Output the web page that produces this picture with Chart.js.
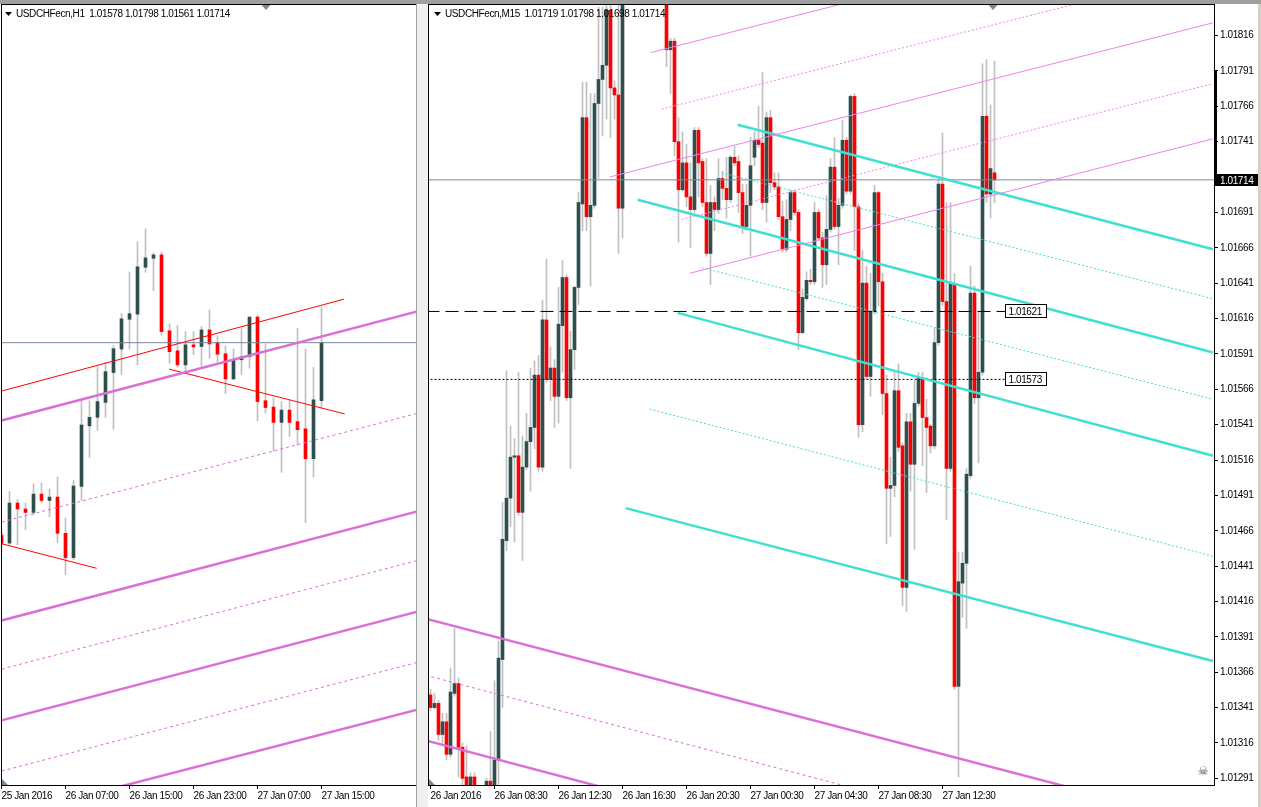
<!DOCTYPE html>
<html>
<head>
<meta charset="utf-8">
<script src="https://cdn.jsdelivr.net/npm/chart.js@4.4.0/dist/chart.umd.min.js"></script>
<style>
  html, body { margin: 0; padding: 0; background: #fff; overflow: hidden; }
  body { width: 1261px; height: 807px; position: relative; }
  #topbar { position: absolute; left: 0; top: 0; width: 1261px; height: 4px; background: #a0a0a0; }
  #gap { position: absolute; left: 416px; top: 0; width: 12px; height: 807px; background: #f0f0f0; border-left: 1px solid #a0a0a0; box-sizing: border-box; }
  #edge { position: absolute; left: 1258px; top: 0; width: 3px; height: 807px; background: #d4d0c8; }
  .pane { position: absolute; top: 0; height: 807px; }
  #h1Wrap { left: 0; width: 416px; }
  #m15Wrap { left: 428px; width: 833px; }
</style>
</head>
<body>
<div id="h1Wrap" class="pane"><canvas id="h1Chart"></canvas></div>
<div id="gap"></div>
<div id="m15Wrap" class="pane"><canvas id="m15Chart"></canvas></div>
<div id="edge"></div>
<div id="topbar"></div>
<script>
// Data: USDCHFecn M15 candles (index 0 = 26 Jan 04:30)
const m15Open = [1.01350,1.01341,1.01344,1.01322,1.01331,1.01308,1.01351,1.01358,1.01313,1.01292,
  1.01284,1.01292,1.01270,1.01262,1.01280,1.01289,1.01282,1.01304,1.01375,1.01459,
  1.01489,1.01518,1.01519,1.01479,1.01511,1.01529,1.01539,1.01576,1.01511,1.01615,
  1.01573,1.01581,1.01561,1.01611,1.01645,1.01560,1.01594,1.01638,1.01697,1.01758,
  1.01688,1.01696,1.01768,1.01785,1.01795,1.01834,1.01779,1.01774,1.01694,1.01870,
  1.01895,1.01920,1.01900,1.01915,1.01890,1.01875,1.01890,1.01868,1.01858,1.01852,
  1.01806,1.01812,1.01741,1.01707,1.01726,1.01702,1.01693,1.01749,1.01727,1.01698,
  1.01662,1.01698,1.01693,1.01715,1.01708,1.01700,1.01730,1.01727,1.01705,1.01681,
  1.01696,1.01730,1.01742,1.01740,1.01698,1.01758,1.01712,1.01709,1.01688,1.01665,
  1.01686,1.01705,1.01691,1.01606,1.01630,1.01643,1.01642,1.01691,1.01673,1.01654,
  1.01679,1.01723,1.01681,1.01696,1.01742,1.01706,1.01773,1.01695,1.01541,1.01641,
  1.01575,1.01621,1.01705,1.01642,1.01563,1.01496,1.01498,1.01565,1.01526,1.01426,
  1.01543,1.01513,1.01556,1.01574,1.01546,1.01540,1.01526,1.01599,1.01711,1.01628,
  1.01510,1.01640,1.01356,1.01429,1.01443,1.01505,1.01634,1.01560,1.01578,1.01759,
  1.01704,1.01719];
const m15High = [1.01354,1.01351,1.01346,1.01337,1.01337,1.01369,1.01397,1.01362,1.01316,1.01314,
  1.01295,1.01295,1.01282,1.01280,1.01291,1.01324,1.01360,1.01388,1.01486,1.01579,
  1.01540,1.01531,1.01578,1.01533,1.01549,1.01581,1.01586,1.01590,1.01629,1.01658,
  1.01596,1.01587,1.01638,1.01657,1.01647,1.01607,1.01639,1.01705,1.01783,1.01783,
  1.01775,1.01775,1.01836,1.01836,1.01840,1.01839,1.01784,1.01845,1.01885,1.01905,
  1.01930,1.01935,1.01925,1.01930,1.01905,1.01900,1.01900,1.01880,1.01870,1.01860,
  1.01814,1.01814,1.01758,1.01748,1.01739,1.01726,1.01751,1.01751,1.01729,1.01729,
  1.01710,1.01702,1.01729,1.01720,1.01730,1.01731,1.01738,1.01731,1.01711,1.01711,
  1.01744,1.01748,1.01766,1.01790,1.01762,1.01763,1.01719,1.01719,1.01699,1.01700,
  1.01707,1.01707,1.01693,1.01637,1.01649,1.01651,1.01698,1.01693,1.01677,1.01703,
  1.01729,1.01744,1.01701,1.01756,1.01744,1.01774,1.01775,1.01697,1.01664,1.01653,
  1.01648,1.01710,1.01706,1.01648,1.01576,1.01518,1.01578,1.01584,1.01528,1.01549,
  1.01549,1.01572,1.01578,1.01578,1.01559,1.01541,1.01609,1.01714,1.01747,1.01698,
  1.01698,1.01648,1.01451,1.01451,1.01510,1.01653,1.01639,1.01621,1.01796,1.01799,
  1.01767,1.01798];
const m15Low = [1.01339,1.01340,1.01318,1.01316,1.01304,1.01306,1.01349,1.01292,1.01276,1.01280,
  1.01282,1.01280,1.01255,1.01258,1.01275,1.01275,1.01278,1.01285,1.01341,1.01452,
  1.01469,1.01458,1.01477,1.01445,1.01509,1.01494,1.01524,1.01508,1.01508,1.01571,
  1.01558,1.01539,1.01542,1.01578,1.01558,1.01510,1.01580,1.01626,1.01678,1.01678,
  1.01639,1.01694,1.01715,1.01745,1.01757,1.01744,1.01757,1.01662,1.01673,1.01850,
  1.01880,1.01890,1.01885,1.01880,1.01865,1.01860,1.01860,1.01850,1.01842,1.01794,
  1.01775,1.01731,1.01670,1.01706,1.01695,1.01666,1.01691,1.01702,1.01695,1.01660,
  1.01640,1.01678,1.01690,1.01700,1.01687,1.01698,1.01724,1.01691,1.01676,1.01679,
  1.01660,1.01724,1.01737,1.01693,1.01684,1.01705,1.01707,1.01686,1.01663,1.01663,
  1.01678,1.01689,1.01594,1.01605,1.01629,1.01640,1.01640,1.01671,1.01638,1.01640,
  1.01677,1.01679,1.01654,1.01694,1.01704,1.01704,1.01664,1.01532,1.01536,1.01573,
  1.01561,1.01619,1.01625,1.01548,1.01457,1.01462,1.01490,1.01522,1.01413,1.01409,
  1.01494,1.01453,1.01554,1.01512,1.01493,1.01521,1.01524,1.01597,1.01625,1.01474,
  1.01508,1.01354,1.01292,1.01405,1.01397,1.01503,1.01556,1.01514,1.01576,1.01698,
  1.01687,1.01698];
const m15Close = [1.01341,1.01344,1.01322,1.01331,1.01308,1.01352,1.01358,1.01313,1.01291,1.01283,
  1.01292,1.01284,1.01262,1.01275,1.01289,1.01280,1.01304,1.01376,1.01460,1.01489,
  1.01518,1.01519,1.01479,1.01511,1.01529,1.01539,1.01576,1.01511,1.01615,1.01573,
  1.01581,1.01561,1.01612,1.01645,1.01560,1.01594,1.01638,1.01698,1.01758,1.01688,
  1.01696,1.01768,1.01785,1.01795,1.01834,1.01779,1.01774,1.01694,1.01870,1.01895,
  1.01920,1.01900,1.01915,1.01890,1.01875,1.01890,1.01868,1.01858,1.01852,1.01806,
  1.01812,1.01741,1.01707,1.01726,1.01702,1.01693,1.01749,1.01726,1.01698,1.01662,
  1.01698,1.01693,1.01715,1.01708,1.01700,1.01730,1.01726,1.01705,1.01681,1.01696,
  1.01724,1.01742,1.01739,1.01698,1.01758,1.01712,1.01709,1.01688,1.01665,1.01686,
  1.01705,1.01691,1.01606,1.01631,1.01643,1.01642,1.01691,1.01673,1.01654,1.01679,
  1.01723,1.01681,1.01696,1.01742,1.01706,1.01773,1.01695,1.01541,1.01641,1.01575,
  1.01621,1.01705,1.01642,1.01563,1.01496,1.01498,1.01565,1.01525,1.01426,1.01543,
  1.01513,1.01556,1.01574,1.01546,1.01539,1.01526,1.01599,1.01711,1.01628,1.01510,
  1.01641,1.01356,1.01430,1.01443,1.01506,1.01634,1.01560,1.01578,1.01759,1.01704,
  1.01722,1.01714];

// Data: USDCHFecn H1 candles (index 0 = 25 Jan 23:00)
const h1Open = [1.01263,1.01244,1.01338,1.01324,1.01316,1.01359,1.01344,1.01352,1.01267,1.01210,
  1.01377,1.01519,1.01539,1.01574,1.01644,1.01699,1.01769,1.01781,1.01891,1.01912,
  1.01920,1.01742,1.01695,1.01662,1.01709,1.01705,1.01744,1.01714,1.01688,1.01629,
  1.01674,1.01681,1.01774,1.01578,1.01563,1.01527,1.01556,1.01529,1.01512,1.01442,1.01578];
const h1High = [1.01280,1.01365,1.01346,1.01338,1.01383,1.01385,1.01371,1.01399,1.01303,1.01391,
  1.01578,1.01578,1.01658,1.01668,1.01707,1.01783,1.01880,1.01951,1.01981,1.01925,
  1.01927,1.01758,1.01754,1.01740,1.01740,1.01752,1.01791,1.01730,1.01707,1.01699,
  1.01747,1.01775,1.01779,1.01711,1.01584,1.01576,1.01578,1.01748,1.01699,1.01656,1.01798];
const h1Low = [1.01224,1.01240,1.01240,1.01275,1.01310,1.01339,1.01306,1.01245,1.01170,1.01205,
  1.01344,1.01445,1.01508,1.01539,1.01511,1.01639,1.01699,1.01662,1.01879,1.01836,
  1.01732,1.01666,1.01657,1.01643,1.01686,1.01658,1.01677,1.01668,1.01594,1.01627,
  1.01639,1.01654,1.01531,1.01549,1.01460,1.01410,1.01494,1.01474,1.01292,1.01399,1.01561];
const h1Close = [1.01244,1.01338,1.01324,1.01316,1.01359,1.01344,1.01352,1.01267,1.01210,1.01378,
  1.01521,1.01539,1.01576,1.01646,1.01700,1.01770,1.01782,1.01892,1.01913,1.01920,
  1.01740,1.01693,1.01662,1.01709,1.01704,1.01744,1.01711,1.01687,1.01629,1.01674,
  1.01681,1.01774,1.01576,1.01562,1.01527,1.01556,1.01527,1.01510,1.01442,1.01580,1.01714];

// Axis labels
const m15TickIdx = [0, 16, 32, 48, 64, 80, 96, 112, 128];
const m15TickLabels = ['26 Jan 2016', '26 Jan 08:30', '26 Jan 12:30', '26 Jan 16:30', '26 Jan 20:30',
  '27 Jan 00:30', '27 Jan 04:30', '27 Jan 08:30', '27 Jan 12:30'];
const h1TickIdx = [0, 8, 16, 24, 32, 40];
const h1TickLabels = ['25 Jan 2016', '26 Jan 07:00', '26 Jan 15:00', '26 Jan 23:00', '27 Jan 07:00', '27 Jan 15:00'];
const m15PriceTicks = [1.01291, 1.01316, 1.01341, 1.01366, 1.01391, 1.01416, 1.01441, 1.01466, 1.01491,
  1.01516, 1.01541, 1.01566, 1.01591, 1.01616, 1.01641, 1.01666, 1.01691, 1.01741, 1.01766, 1.01791, 1.01816];

const lastPrice = 1.01714;
const axisBarRange = [1.01791, 1.01714];
// price levels with label box: [price, index where the line stops]
const m15Levels = [[1.01621, 143.6], [1.01573, 143.6]];

// Trend lines: [x1, price1, x2, price2]
const m15VioletSolid = [[55.1, 1.01804, 195.6, 1.01905], [44.8, 1.01716, 195.6, 1.01825], [64.8, 1.01648, 195.6, 1.01743]];
const m15VioletDash = [[57.8, 1.01764, 195.6, 1.01863], [62.8, 1.01686, 195.6, 1.01782]];
const m15TurqThick = [[76.8, 1.01753, 195.6, 1.01665], [51.8, 1.01700, 195.6, 1.01592],
  [61.8, 1.01620, 195.6, 1.01519], [48.8, 1.01482, 195.6, 1.01374]];
const m15TurqDot = [[72.8, 1.01719, 195.6, 1.01630], [67.8, 1.01652, 195.6, 1.01559], [54.8, 1.01552, 195.6, 1.01448]];
const m15OrchidThick = [[-2.7, 1.01405, 195.6, 1.01258], [-2.7, 1.01319, 195.6, 1.01170]];
const m15OrchidDash = [[-2.7, 1.01365, 195.6, 1.01217]];

const h1RedLines = [[-0.7, 1.01597, 42.8, 1.01816], [20.95, 1.01652, 42.9, 1.01547], [-0.7, 1.01246, 11.9, 1.01185]];
const h1OrchidThick = [[-0.7, 1.01528, 52.3, 1.01789], [-0.7, 1.01059, 52.3, 1.01320],
  [-0.7, 1.00825, 52.3, 1.01085], [14.8, 1.00673, 52.3, 1.00855]];
const h1OrchidDash = [[-0.7, 1.01290, 52.3, 1.01550], [-0.7, 1.00945, 52.3, 1.01205], [-0.7, 1.00706, 52.3, 1.00966]];

// Colours / fonts
const BULL = '#2f4f4f';
const BEAR = '#ff0000';
const WICK = '#c0c0c0';
const VIOLET = '#ee82ee';
const ORCHID = '#da70d6';
const TURQ = '#40e0d0';
const GRAYLINE = '#778899';
const FONT = '"Liberation Sans", Arial, sans-serif';
const SPACING = '-0.4px';

Chart.defaults.font.family = FONT;
Chart.defaults.font.size = 10;
Chart.defaults.color = '#000';
Chart.defaults.animation = false;

function candleSets(o, h, l, c) {
    const body = o.map((v, i) => ({ x: i, y: [v, c[i]] }));
    const wick = h.map((v, i) => ({ x: i, y: [l[i], v] }));
    const cols = o.map((v, i) => c[i] >= v ? BULL : BEAR);
    return [
        { type: 'bar', data: body, backgroundColor: cols, barThickness: 3, grouped: false, minBarLength: 1, order: 1 },
        { type: 'bar', data: wick, backgroundColor: WICK, barThickness: 1, grouped: false, order: 2 }
    ];
}

function lineSets(list, color, width, dash) {
    return list.map(s => ({
        type: 'line',
        data: [{ x: s[0], y: s[1] }, { x: s[2], y: s[3] }],
        borderColor: color, borderWidth: width, borderDash: dash || [],
        pointRadius: 0, order: 0
    }));
}

function hLine(p, x1, x2, color, dash) {
    return { type: 'line', data: [{ x: x1, y: p }, { x: x2, y: p }], borderColor: color,
        borderWidth: 1, borderDash: dash || [], pointRadius: 0, order: 0 };
}

// Frame, title, markers and price boxes
const paneDecor = {
    id: 'paneDecor',
    beforeUpdate(chart) { chart.ctx.letterSpacing = SPACING; },
    beforeDraw(chart) { chart.ctx.letterSpacing = SPACING; },
    afterDraw(chart, args, opts) {
        const { ctx, chartArea: a } = chart;
        const yS = chart.scales.y;
        ctx.save();
        ctx.letterSpacing = SPACING;
        ctx.strokeStyle = '#000';
        ctx.lineWidth = 1;
        ctx.strokeRect(a.left - 0.5, a.top - 0.5, a.right - a.left + 1, a.bottom - a.top + 1);

        // title
        ctx.fillStyle = '#000';
        ctx.beginPath();
        ctx.moveTo(a.left + opts.triX, a.top + 7);
        ctx.lineTo(a.left + opts.triX + 7, a.top + 7);
        ctx.lineTo(a.left + opts.triX + 3.5, a.top + 11);
        ctx.closePath();
        ctx.fill();
        ctx.font = '10px ' + FONT;
        ctx.textBaseline = 'alphabetic';
        ctx.textAlign = 'left';
        ctx.fillText(opts.title, a.left + opts.titleX, a.top + 12);

        // chart shift marker
        ctx.fillStyle = GRAYLINE;
        ctx.beginPath();
        ctx.moveTo(opts.shiftX - 4.5, a.top);
        ctx.lineTo(opts.shiftX + 4.5, a.top);
        ctx.lineTo(opts.shiftX, a.top + 5);
        ctx.closePath();
        ctx.fill();

        // corner marker
        ctx.beginPath();
        ctx.moveTo(a.left, a.bottom - 6);
        ctx.lineTo(a.left, a.bottom);
        ctx.lineTo(a.left + 6, a.bottom);
        ctx.closePath();
        ctx.fill();

        if (opts.levels) {
            const xS = chart.scales.x;
            opts.levels.forEach(l => {
                const x = Math.round(xS.getPixelForValue(l[1])) + 0.5;
                const y = Math.round(yS.getPixelForValue(l[0]));
                ctx.fillStyle = '#fff';
                ctx.fillRect(x, y - 6, 41, 13);
                ctx.strokeStyle = '#000';
                ctx.strokeRect(x, y - 6.5, 41, 13);
                ctx.fillStyle = '#000';
                ctx.textBaseline = 'middle';
                ctx.fillText(l[0].toFixed(5), x + 3, y + 1);
            });
        }

        if (opts.priceBox) {
            // thick bar on the price axis
            const yb1 = yS.getPixelForValue(axisBarRange[0]);
            const yb2 = yS.getPixelForValue(axisBarRange[1]);
            ctx.fillStyle = '#000';
            ctx.fillRect(a.right, yb1, 3, yb2 - yb1);
            // current price box
            const y = Math.round(yS.getPixelForValue(lastPrice));
            ctx.fillRect(a.right + 1, y - 6, 43, 12);
            ctx.fillStyle = '#fff';
            ctx.textBaseline = 'middle';
            ctx.fillText(lastPrice.toFixed(5), a.right + 6, y + 1);
            // expert icon
            ctx.fillStyle = '#555';
            ctx.font = '12px "DejaVu Sans"';
            ctx.textAlign = 'center';
            ctx.fillText('\u2620', a.right - 11, a.bottom - 13);
        }
        ctx.restore();
    }
};

function xAxis(min, max, idx, labels) {
    return {
        type: 'linear', min: min, max: max, offset: false, bounds: 'data',
        afterBuildTicks: s => { s.ticks = idx.map(v => ({ value: v })); },
        afterFit: s => { s.height = 22; s.paddingLeft = 0; s.paddingRight = 0; },
        ticks: { callback: (v, i) => labels[i], align: 'start', maxRotation: 0, minRotation: 0, autoSkip: false, padding: 1, color: '#000' },
        grid: { offset: false, drawOnChartArea: false, drawTicks: true, tickLength: 4, tickColor: '#000', color: '#000' },
        border: { display: false }
    };
}

// H1 chart
const h1Datasets = [].concat(
    lineSets(h1OrchidThick, ORCHID, 2.5),
    lineSets(h1OrchidDash, ORCHID, 1, [3, 3]),
    lineSets(h1RedLines, '#ff0000', 1),
    [hLine(lastPrice, -1, 53, GRAYLINE)],
    candleSets(h1Open, h1High, h1Low, h1Close)
);

new Chart(document.getElementById('h1Chart'), {
    type: 'bar',
    data: { datasets: h1Datasets },
    options: {
        responsive: true,
        maintainAspectRatio: false,
        layout: { padding: { left: 2, top: 5, right: 0, bottom: 0 } },
        plugins: {
            legend: { display: false },
            tooltip: { enabled: false },
            paneDecor: { title: 'USDCHFecn,H1  1.01578 1.01798 1.01561 1.01714', triX: 3, titleX: 14, shiftX: 266 }
        },
        scales: {
            x: xAxis(0.0625, 51.8125, h1TickIdx, h1TickLabels),
            y: { display: false, min: 1.006768, max: 1.025059, bounds: 'data', beginAtZero: false }
        }
    },
    plugins: [paneDecor]
});

// M15 chart
const m15Datasets = [].concat(
    lineSets(m15VioletSolid, VIOLET, 1),
    lineSets(m15VioletDash, VIOLET, 1, [2, 2]),
    lineSets(m15TurqThick, TURQ, 2.5),
    lineSets(m15TurqDot, TURQ, 1, [2, 2]),
    lineSets(m15OrchidThick, ORCHID, 2.5),
    lineSets(m15OrchidDash, ORCHID, 1, [3, 3]),
    [hLine(lastPrice, -1, 197, GRAYLINE),
     hLine(m15Levels[0][0], -1, m15Levels[0][1], '#000', [13, 6]),
     hLine(m15Levels[1][0], -1, m15Levels[1][1], '#000', [2, 2])],
    candleSets(m15Open, m15High, m15Low, m15Close)
);

new Chart(document.getElementById('m15Chart'), {
    type: 'bar',
    data: { datasets: m15Datasets },
    options: {
        responsive: true,
        maintainAspectRatio: false,
        layout: { padding: { left: 1, top: 5, right: 0, bottom: 0 } },
        plugins: {
            legend: { display: false },
            tooltip: { enabled: false },
            paneDecor: { title: 'USDCHFecn,M15  1.01719 1.01798 1.01698 1.01714', triX: 5, titleX: 16, shiftX: 565,
                levels: m15Levels, priceBox: true }
        },
        scales: {
            x: xAxis(-0.375, 195.875, m15TickIdx, m15TickLabels),
            y: {
                position: 'right', min: 1.012863, max: 1.018376, bounds: 'data', beginAtZero: false,
                afterBuildTicks: s => { s.ticks = m15PriceTicks.map(v => ({ value: v })); },
                afterFit: s => { s.width = 47; s.paddingTop = 0; s.paddingBottom = 0; },
                ticks: { callback: v => v.toFixed(5), padding: 2, autoSkip: false, color: '#000' },
                grid: { drawOnChartArea: false, drawTicks: true, tickLength: 4, tickColor: '#000', color: '#000' },
                border: { display: false }
            }
        }
    },
    plugins: [paneDecor]
});
</script>
</body>
</html>
